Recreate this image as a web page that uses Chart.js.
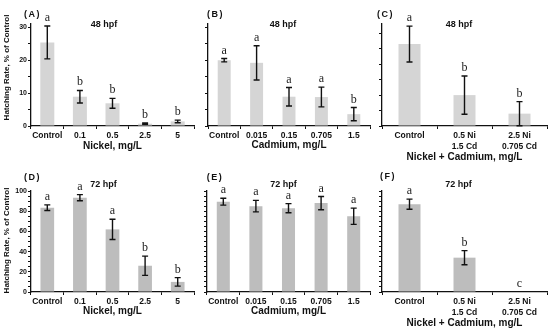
<!DOCTYPE html>
<html>
<head>
<meta charset="utf-8">
<script src="https://cdn.jsdelivr.net/npm/chart.js@4.4.1/dist/chart.umd.min.js"></script>
<style>
  body { margin: 0; background: #fff; }
  #wrap { position: relative; width: 550px; height: 331px; overflow: hidden; }
  canvas { position: absolute; }
</style>
</head>
<body>
<div id="wrap">
  <canvas id="chartA" width="200" height="165" style="left:0;top:0"></canvas>
  <canvas id="chartB" width="195" height="165" style="left:180px;top:0"></canvas>
  <canvas id="chartC" width="190" height="165" style="left:360px;top:0"></canvas>
  <canvas id="chartD" width="200" height="166" style="left:0;top:165px"></canvas>
  <canvas id="chartE" width="195" height="166" style="left:180px;top:165px"></canvas>
  <canvas id="chartF" width="190" height="166" style="left:360px;top:165px"></canvas>
</div>
<script>
const nickelLabels = ['Control', '0.1', '0.5', '2.5', '5'];
const cadmiumLabels = ['Control', '0.015', '0.15', '0.705', '1.5'];
const mixLabels = ['Control', ['0.5 Ni', '1.5 Cd'], ['2.5 Ni', '0.705 Cd']];

// 48 hpf
const nickel48 = [25.4, 8.9, 6.9, 0.7, 1.4];
const nickel48Err = [5.0, 1.9, 1.5, 0.2, 0.4];
const nickel48Sig = ['a', 'b', 'b', 'b', 'b'];
const cadmium48 = [20.0, 19.2, 8.9, 8.8, 3.6];
const cadmium48Err = [0.5, 5.2, 2.8, 3.0, 2.0];
const cadmium48Sig = ['a', 'a', 'a', 'a', 'b'];
const mix48 = [26.5, 10.0, 4.0];
const mix48Err = [5.8, 6.2, 3.9];
const mix48Sig = ['a', 'b', 'b'];

// 72 hpf
const nickel72 = [83.5, 93.4, 62, 26, 10];
const nickel72Err = [2.8, 3, 10, 9.5, 4.2];
const nickel72Sig = ['a', 'a', 'a', 'b', 'b'];
const cadmium72 = [89.4, 85, 83, 88, 75];
const cadmium72Err = [3.4, 5.7, 4.5, 6.5, 8];
const cadmium72Sig = ['a', 'a', 'a', 'a', 'a'];
const mix72 = [87, 34, 0];
const mix72Err = [5, 7, 0];
const mix72Sig = ['a', 'b', 'c'];

const SANS = "'Liberation Sans', Arial, sans-serif";
const SERIF = "'Liberation Serif', 'Times New Roman', serif";
const INK = '#111';

// error bars + significance letters
const errorBarPlugin = {
    id: 'errorBars',
    afterDraw(chart, args, o) {
        const ctx = chart.ctx;
        const y = chart.scales.y;
        const vals = chart.data.datasets[0].data;
        ctx.save();
        ctx.strokeStyle = INK;
        ctx.lineWidth = 1.4;
        chart.getDatasetMeta(0).data.forEach((bar, i) => {
            const v = vals[i], e = o.err[i];
            const top = y.getPixelForValue(v + e);
            if (e > 0) {
                const bot = y.getPixelForValue(v - e);
                ctx.beginPath();
                ctx.moveTo(bar.x, top); ctx.lineTo(bar.x, bot);
                ctx.moveTo(bar.x - 3, top); ctx.lineTo(bar.x + 3, top);
                ctx.moveTo(bar.x - 3, bot); ctx.lineTo(bar.x + 3, bot);
                ctx.stroke();
            }
            ctx.fillStyle = '#222';
            ctx.font = '12px ' + SERIF;
            ctx.textAlign = 'center';
            ctx.textBaseline = 'alphabetic';
            ctx.fillText(o.sig[i], bar.x, top - 5);
        });
        ctx.restore();
    }
};

// panel tag, time label, y title
const panelTextPlugin = {
    id: 'panelText',
    afterDraw(chart, args, o) {
        const ctx = chart.ctx;
        ctx.save();
        ctx.fillStyle = INK;
        ctx.textAlign = 'center';
        ctx.textBaseline = 'middle';
        ctx.font = 'bold 9px ' + SANS;
        ctx.letterSpacing = '1.5px';
        ctx.fillText(o.tag, o.tagX, o.tagY);
        ctx.letterSpacing = '0px';
        ctx.font = 'bold 9px ' + SANS;
        ctx.fillText(o.time, o.timeX, o.timeY);
        if (o.yTitle) {
            ctx.font = 'bold 8px ' + SANS;
            ctx.translate(o.yTitleX, o.yTitleY);
            ctx.rotate(-Math.PI / 2);
            ctx.fillText(o.yTitle, 0, 0);
        }
        ctx.restore();
    }
};

function axisGrid() {
    return { display: true, drawOnChartArea: false, drawTicks: true, tickLength: 3, color: INK, lineWidth: 1 };
}

function makeChart(id, cfg) {
    return new Chart(document.getElementById(id), {
        type: 'bar',
        data: {
            labels: cfg.labels,
            datasets: [{
                data: cfg.values,
                backgroundColor: cfg.color,
                barPercentage: cfg.barPct,
                categoryPercentage: 1
            }]
        },
        options: {
            responsive: false,
            animation: false,
            devicePixelRatio: 1,
            layout: { padding: { top: cfg.padTop, right: cfg.padRight, left: 0, bottom: 0 } },
            plugins: {
                legend: { display: false },
                tooltip: { enabled: false },
                errorBars: { err: cfg.err, sig: cfg.sig },
                panelText: cfg.text
            },
            scales: {
                x: {
                    grid: Object.assign(axisGrid(), { offset: true }),
                    border: { display: true, color: INK, width: 1.3 },
                    ticks: {
                        color: INK, padding: 1, maxRotation: 0, autoSkip: false,
                        font: { family: SANS, size: 8.5, weight: 'bold', lineHeight: 1.3 }
                    },
                    title: {
                        display: true, text: cfg.xTitle, color: INK,
                        font: { family: SANS, size: 10, weight: 'bold' },
                        padding: { top: 0, bottom: cfg.xTitlePad }
                    },
                    afterFit: s => { s.height = cfg.xHeight; }
                },
                y: {
                    min: 0,
                    max: cfg.max,
                    grid: axisGrid(),
                    border: { display: true, color: INK, width: 1.3 },
                    ticks: {
                        stepSize: 5, autoSkip: false, includeBounds: false, padding: 1, color: INK,
                        font: { family: SANS, size: 7, weight: 'bold' },
                        callback: v => (cfg.labelEvery && v % cfg.labelEvery === 0) ? v : ''
                    },
                    afterFit: s => { s.width = cfg.yWidth; }
                }
            }
        },
        plugins: [errorBarPlugin, panelTextPlugin]
    });
}

const yTitle = 'Hatching Rate, % of Control';
const topColor = '#d5d5d5';
const bottomColor = '#bdbdbd';

const chartA = makeChart('chartA', {
    labels: nickelLabels, values: nickel48, err: nickel48Err, sig: nickel48Sig,
    color: topColor, barPct: 0.43, max: 31, labelEvery: 10,
    yWidth: 31, padRight: 6, padTop: 24, xHeight: 39, xTitlePad: 13,
    xTitle: 'Nickel, mg/L',
    text: { tag: '(A)', tagX: 32.5, tagY: 15, time: '48 hpf', timeX: 104, timeY: 24.5, yTitle: yTitle, yTitleX: 7, yTitleY: 67.5 }
});

const chartB = makeChart('chartB', {
    labels: cadmiumLabels, values: cadmium48, err: cadmium48Err, sig: cadmium48Sig,
    color: topColor, barPct: 0.4, max: 31, labelEvery: 0,
    yWidth: 28, padRight: 5, padTop: 24, xHeight: 39, xTitlePad: 14,
    xTitle: 'Cadmium, mg/L',
    text: { tag: '(B)', tagX: 35.5, tagY: 15, time: '48 hpf', timeX: 103, timeY: 24.5 }
});

const chartC = makeChart('chartC', {
    labels: mixLabels, values: mix48, err: mix48Err, sig: mix48Sig,
    color: topColor, barPct: 0.4, max: 33, labelEvery: 0,
    yWidth: 22, padRight: 3, padTop: 24, xHeight: 39, xTitlePad: 2,
    xTitle: 'Nickel + Cadmium, mg/L',
    text: { tag: '(C)', tagX: 25.5, tagY: 15, time: '48 hpf', timeX: 99, timeY: 24.5 }
});

const chartD = makeChart('chartD', {
    labels: nickelLabels, values: nickel72, err: nickel72Err, sig: nickel72Sig,
    color: bottomColor, barPct: 0.42, max: 100, labelEvery: 20,
    yWidth: 31, padRight: 6, padTop: 26, xHeight: 39, xTitlePad: 14,
    xTitle: 'Nickel, mg/L',
    text: { tag: '(D)', tagX: 32.5, tagY: 12.5, time: '72 hpf', timeX: 103.5, timeY: 20, yTitle: yTitle, yTitleX: 7, yTitleY: 75.5 }
});

const chartE = makeChart('chartE', {
    labels: cadmiumLabels, values: cadmium72, err: cadmium72Err, sig: cadmium72Sig,
    color: bottomColor, barPct: 0.4, max: 100, labelEvery: 0,
    yWidth: 27, padRight: 5, padTop: 26, xHeight: 39, xTitlePad: 14,
    xTitle: 'Cadmium, mg/L',
    text: { tag: '(E)', tagX: 35, tagY: 13, time: '72 hpf', timeX: 103.5, timeY: 20 }
});

const chartF = makeChart('chartF', {
    labels: mixLabels, values: mix72, err: mix72Err, sig: mix72Sig,
    color: bottomColor, barPct: 0.4, max: 100, labelEvery: 0,
    yWidth: 22, padRight: 3, padTop: 26, xHeight: 39, xTitlePad: 2,
    xTitle: 'Nickel + Cadmium, mg/L',
    text: { tag: '(F)', tagX: 28, tagY: 12, time: '72 hpf', timeX: 98.5, timeY: 20 }
});
</script>
</body>
</html>
